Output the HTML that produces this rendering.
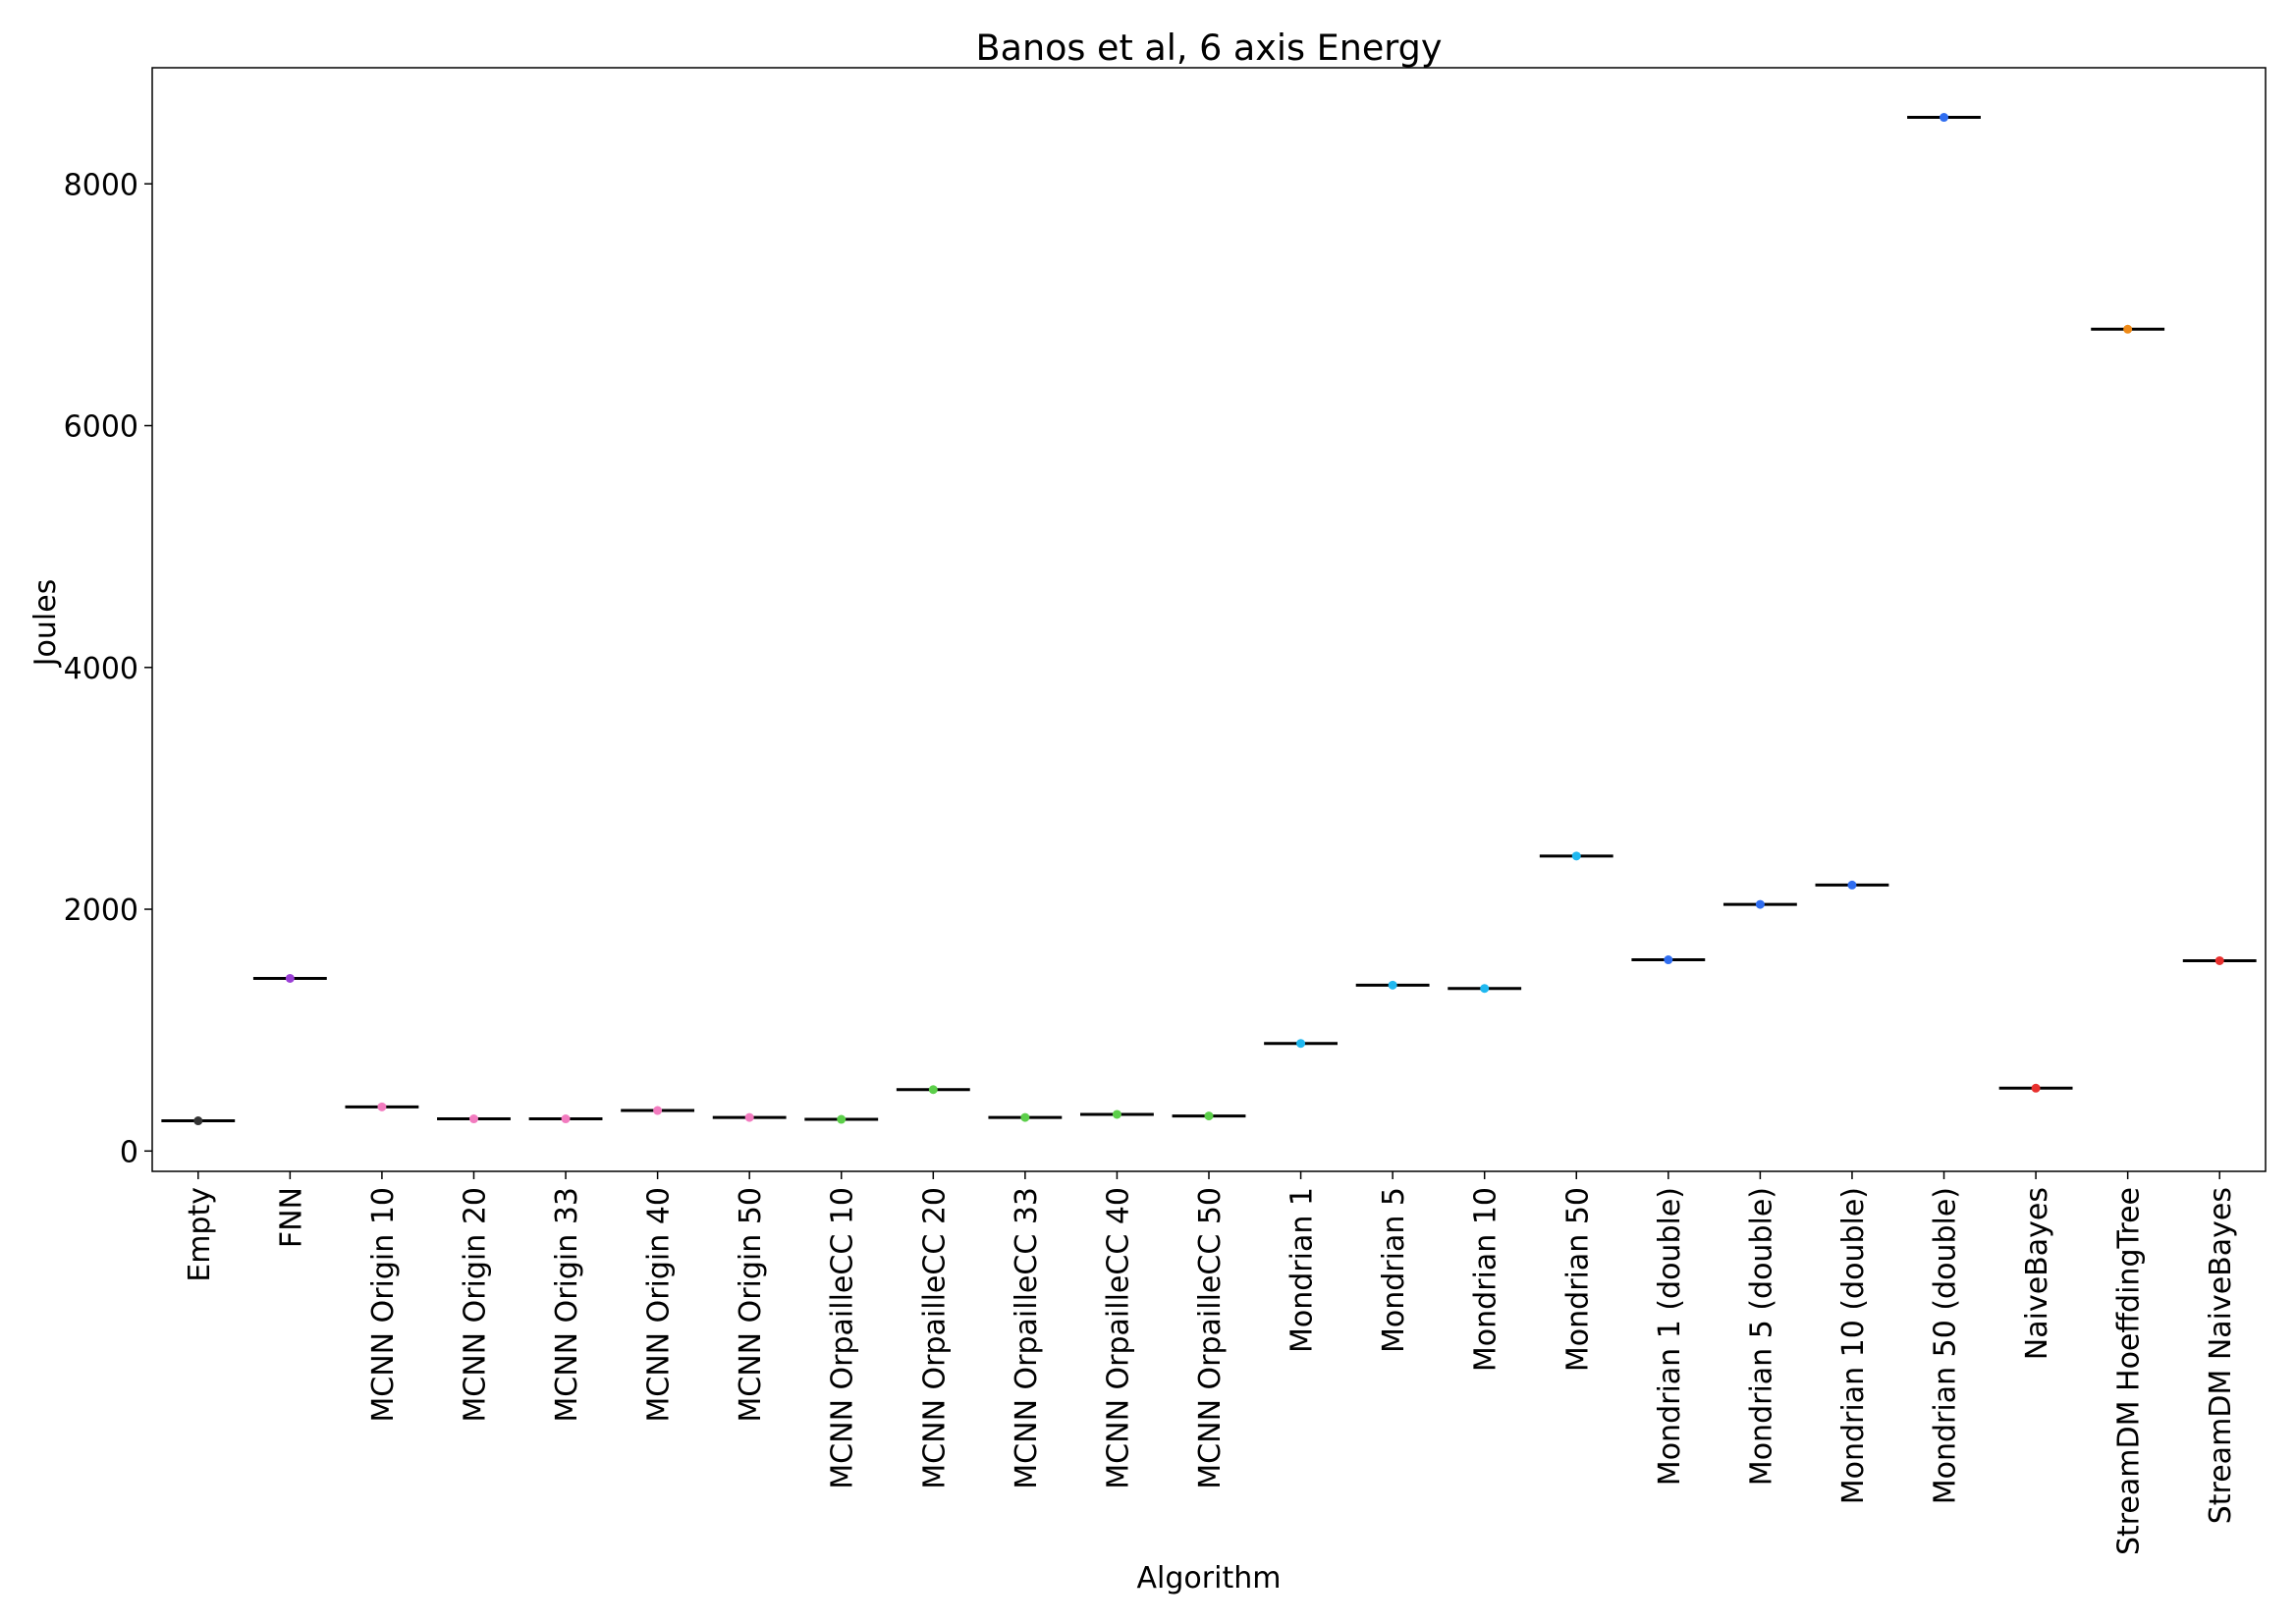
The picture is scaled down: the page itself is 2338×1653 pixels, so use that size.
<!DOCTYPE html>
<html><head><meta charset="utf-8"><style>
body{margin:0;background:#fff}
svg{display:block;font-family:"DejaVu Sans","Liberation Sans",sans-serif}
</style></head><body>
<svg id="chart" width="2338" height="1653" viewBox="0 0 2338 1653" xmlns="http://www.w3.org/2000/svg">
<rect width="2338" height="1653" fill="#fff"/>
<text x="1231" y="61" font-size="36.5" text-anchor="middle">Banos et al, 6 axis Energy</text>
<text transform="translate(56,634) rotate(-90)" font-size="30" text-anchor="middle">Joules</text>
<text x="1231" y="1617" font-size="30" text-anchor="middle">Algorithm</text>
<g id="plot"></g>
<rect x="155" y="69" width="2152" height="1124" fill="none" stroke="#000" stroke-width="1.5"/>
</svg>
<script>
const categories=["Empty","FNN","MCNN Origin 10","MCNN Origin 20","MCNN Origin 33","MCNN Origin 40","MCNN Origin 50","MCNN OrpailleCC 10","MCNN OrpailleCC 20","MCNN OrpailleCC 33","MCNN OrpailleCC 40","MCNN OrpailleCC 50","Mondrian 1","Mondrian 5","Mondrian 10","Mondrian 50","Mondrian 1 (double)","Mondrian 5 (double)","Mondrian 10 (double)","Mondrian 50 (double)","NaiveBayes","StreamDM HoeffdingTree","StreamDM NaiveBayes"];
const values=[250,1428,365,266,266,335,278,262,508,278,303,290,890,1372,1345,2440,1582,2040,2200,8550,520,6798,1574];
const colors=["#333333","#9b3fd6","#f27bbf","#f27bbf","#f27bbf","#f27bbf","#f27bbf","#5ccf4a","#5ccf4a","#5ccf4a","#5ccf4a","#5ccf4a","#1fb8f0","#1fb8f0","#1fb8f0","#1fb8f0","#2f6df0","#2f6df0","#2f6df0","#2f6df0","#e8302e","#ee8a18","#e8302e"];
const yTicks=[0,2000,4000,6000,8000];
const L=155,R=2307,T=69,B=1193,y0=1172.3,k=0.12313;
const band=(R-L)/categories.length;
const xs=i=>L+band*(i+0.5);
const ys=v=>y0-v*k;
const g=document.getElementById('plot');
const NS="http://www.w3.org/2000/svg";
function mk(t,a){const e=document.createElementNS(NS,t);for(const n in a)e.setAttribute(n,a[n]);g.appendChild(e);return e;}
yTicks.forEach(v=>{
  const t=mk('line',{x1:L-8,x2:L,y1:ys(v),y2:ys(v),stroke:'#000','stroke-width':1.5});
  
  
  const l=mk('text',{x:L-14,y:ys(v)+11,'font-size':30,'text-anchor':'end'});
  l.textContent=v;
  
  
});
categories.forEach((c,i)=>{
  const x=xs(i);
  const t=mk('line',{x1:x,x2:x,y1:B,y2:B+8,stroke:'#000','stroke-width':1.5});
  
  
  const l=mk('text',{transform:`translate(${x+11},${B+16}) rotate(-90)`,'font-size':30,'text-anchor':'end'});
  l.textContent=c;
  
  
  const y=ys(values[i]);
  const m=mk('line',{x1:x-band*0.4,x2:x+band*0.4,y1:y,y2:y,stroke:'#000','stroke-width':3});
  
  
  const d=mk('circle',{cx:x,cy:y,r:4.5,fill:colors[i]});
  
  
});
</script>
</body></html>
